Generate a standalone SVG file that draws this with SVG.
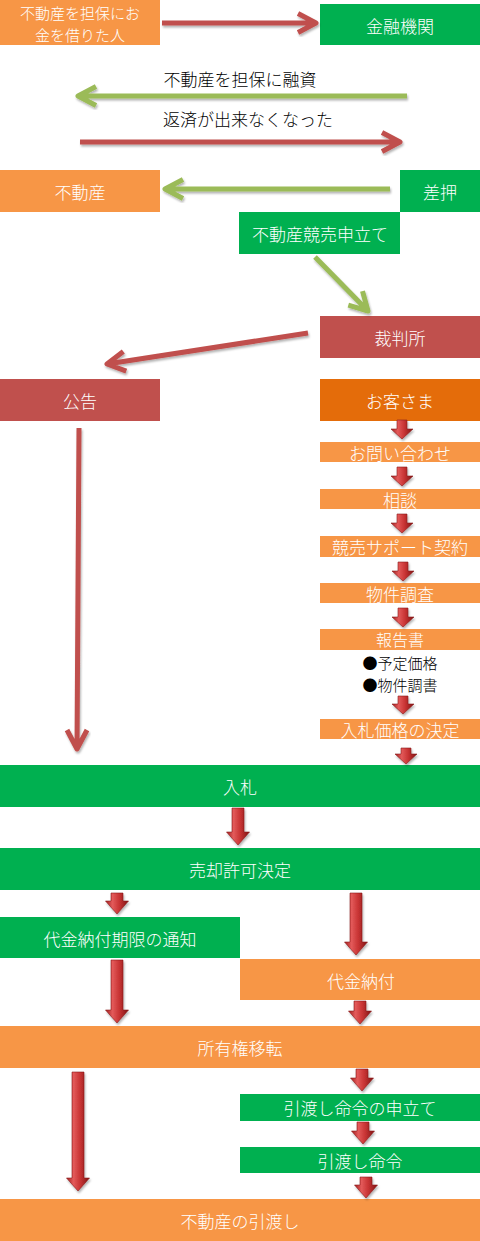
<svg xmlns="http://www.w3.org/2000/svg" width="480" height="1241" viewBox="0 0 480 1241">
<defs>
<style>
.t{font-family:"Noto Sans CJK JP","Liberation Sans",sans-serif;font-size:17px;font-weight:300;fill:#fff;text-anchor:middle;dominant-baseline:central}
.k{font-family:"Noto Sans CJK JP","Liberation Sans",sans-serif;font-size:17px;font-weight:300;fill:#000;text-anchor:middle;dominant-baseline:central}
.s{font-size:16px}
.x{font-size:15px}
.or{fill:#F79646}.gr{fill:#00B050}.rd{fill:#C0504D}.do{fill:#E46C0A}
.la{fill:none;stroke-width:5;stroke-linejoin:round;filter:url(#sh)}
.lr{stroke:#C0504D}.lg{stroke:#9BBB59}
.ba{fill:url(#bg);stroke:#8a1a1a;stroke-width:0.6;filter:url(#sh)}
</style>
<filter id="sh" x="-20%" y="-20%" width="140%" height="140%">
<feDropShadow dx="1" dy="2" stdDeviation="1.2" flood-color="#000" flood-opacity="0.3"/>
</filter>
<linearGradient id="bg" x1="0" y1="0" x2="1" y2="0">
<stop offset="0" stop-color="#A02020"/>
<stop offset="0.3" stop-color="#E35A5A"/>
<stop offset="0.6" stop-color="#C83434"/>
<stop offset="1" stop-color="#7E1414"/>
</linearGradient>
</defs>

<g id="n1"><rect class="or" x="0" y="0" width="160" height="45"/><text class="t x" x="80" y="12">不動産を担保にお</text><text class="t x" x="80" y="34">金を借りた人</text></g>
<g id="n2"><rect class="gr" x="320" y="4" width="160" height="41"/><text class="t" x="400" y="25">金融機関</text></g>
<g id="n3"><rect class="or" x="0" y="170" width="160" height="42"/><text class="t" x="80" y="191">不動産</text></g>
<g id="n4"><rect class="gr" x="400" y="170" width="80" height="42"/><text class="t" x="440" y="191">差押</text></g>
<g id="n5"><rect class="gr" x="239" y="212" width="161" height="42"/><text class="t" x="320" y="233">不動産競売申立て</text></g>
<g id="n6"><rect class="rd" x="320" y="316" width="160" height="42"/><text class="t" x="400" y="337">裁判所</text></g>
<g id="n7"><rect class="rd" x="0" y="379" width="160" height="42"/><text class="t" x="80" y="400">公告</text></g>
<g id="n8"><rect class="do" x="320" y="379" width="160" height="42"/><text class="t" x="400" y="400">お客さま</text></g>
<g id="n9"><rect class="or" x="320" y="442" width="160" height="20"/><text class="t" x="400" y="452">お問い合わせ</text></g>
<g id="n10"><rect class="or" x="320" y="489" width="160" height="20"/><text class="t" x="400" y="499">相談</text></g>
<g id="n11"><rect class="or" x="320" y="536" width="160" height="21"/><text class="t" x="400" y="546.5">競売サポート契約</text></g>
<g id="n12"><rect class="or" x="320" y="583" width="160" height="20"/><text class="t" x="400" y="593">物件調査</text></g>
<g id="n13"><rect class="or" x="320" y="629" width="160" height="21"/><text class="t s" x="400" y="639">報告書</text><text class="k x" x="400" y="662">●予定価格</text><text class="k x" x="400" y="684">●物件調書</text></g>
<g id="n14"><rect class="or" x="320" y="719" width="160" height="20"/><text class="t" x="400" y="729">入札価格の決定</text></g>
<g id="n15"><rect class="gr" x="0" y="765" width="480" height="42"/><text class="t" x="240" y="786">入札</text></g>
<g id="n16"><rect class="gr" x="0" y="848" width="480" height="42"/><text class="t" x="240" y="869">売却許可決定</text></g>
<g id="n17"><rect class="gr" x="0" y="917" width="240" height="41"/><text class="t" x="120" y="938">代金納付期限の通知</text></g>
<g id="n18"><rect class="or" x="240" y="959" width="240" height="41"/><text class="t" x="361" y="980">代金納付</text></g>
<g id="n19"><rect class="or" x="0" y="1026" width="480" height="42"/><text class="t" x="240" y="1047">所有権移転</text></g>
<g id="n20"><rect class="gr" x="240" y="1094" width="240" height="27"/><text class="t" x="360" y="1107.5">引渡し命令の申立て</text></g>
<g id="n21"><rect class="gr" x="240" y="1147" width="240" height="26"/><text class="t" x="360" y="1160">引渡し命令</text></g>
<g id="n22"><rect class="or" x="0" y="1199" width="480" height="42"/><text class="t" x="240" y="1220">不動産の引渡し</text></g>

<g id="labels">
<text class="k" x="240" y="78">不動産を担保に融資</text>
<text class="k" x="248" y="118">返済が出来なくなった</text>
</g>

<g id="connectors">
<path class="la lr" d="M162 23 L316 23 M298 13.5 L316 23 L298 32.5"/>
<path class="la lg" d="M407 96 L78 96 M96 86.5 L78 96 L96 105.5"/>
<path class="la lr" d="M80 142 L400 142 M382 132.5 L400 142 L382 151.5"/>
<path class="la lg" d="M390 189 L165 189 M183 179.5 L165 189 L183 198.5"/>
<path class="la lg" d="M315 257 L368 311 M348.3 305.2 L368 311 L362.5 291.2"/>
<path class="la lr" d="M308 333 L107 364 M123.3 351.4 L107 364 L126.3 371.2"/>
<path class="la lr" d="M79 428 L77 749 M67 730 L77 749 L87 730"/>

<path class="ba" d="M397 420 H407 V429 H413 L402 439 L391 429 H397 Z"/>
<path class="ba" d="M397 467 H407 V476 H413 L402 486 L391 476 H397 Z"/>
<path class="ba" d="M397 514 H407 V523 H413 L402 533 L391 523 H397 Z"/>
<path class="ba" d="M398 562 H408 V571 H414 L403 581 L392 571 H398 Z"/>
<path class="ba" d="M398 608 H408 V617 H414 L403 627 L392 617 H398 Z"/>
<path class="ba" d="M398 696 H408 V704 H414 L403 714 L392 704 H398 Z"/>
<path class="ba" d="M401 748 H411 V754 H417 L406 764 L395 754 H401 Z"/>

<path class="ba" d="M232 808 H244 V832 H249.5 L238 845 L226.5 832 H232 Z"/>
<path class="ba" d="M111 893 H123 V901 H128.5 L117 914 L105.5 901 H111 Z"/>
<path class="ba" d="M350 893 H362 V942 H367.5 L356 955 L344.5 942 H350 Z"/>
<path class="ba" d="M111 960 H123 V1010 H128.5 L117 1023 L105.5 1010 H111 Z"/>
<path class="ba" d="M354 1001 H366 V1011 H371.5 L360 1024 L348.5 1011 H354 Z"/>
<path class="ba" d="M72 1072 H84 V1178 H89.5 L78 1191 L66.5 1178 H72 Z"/>
<path class="ba" d="M356 1069 H368 V1078 H373.5 L362 1091 L350.5 1078 H356 Z"/>
<path class="ba" d="M357 1122 H369 V1131 H374.5 L363 1144 L351.5 1131 H357 Z"/>
<path class="ba" d="M360 1177 H372 V1185 H377.5 L366 1198 L354.5 1185 H360 Z"/>
</g>
</svg>
